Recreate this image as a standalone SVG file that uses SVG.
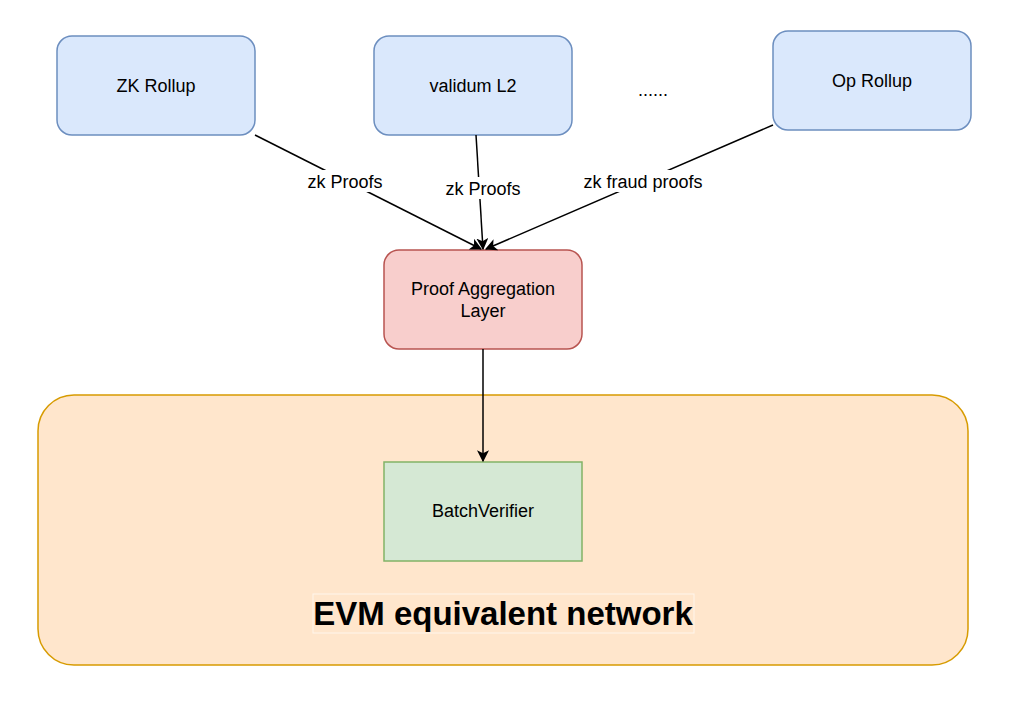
<svg xmlns="http://www.w3.org/2000/svg" width="1024" height="707" viewBox="0 0 1024 707">
<defs>
<marker id="arr" viewBox="0 0 10 10" refX="9" refY="5" markerWidth="12" markerHeight="12" markerUnits="userSpaceOnUse" orient="auto">
<path d="M0,0 L10,5 L0,10 L2.5,5 Z" fill="#000"/>
</marker>
</defs>
<style>
.blue{fill:#dae8fc;stroke:#6c8ebf;stroke-width:1.5}
.t{font-family:"Liberation Sans",Arial,sans-serif;font-size:18px;fill:#000;text-anchor:middle}
.edge{stroke:#000;stroke-width:1.5;fill:none;marker-end:url(#arr)}
.lbl{fill:#fff}
</style>
<rect width="1024" height="707" fill="#fff"/>
<g id="container">
<rect x="38" y="395" width="930" height="270" rx="36" fill="#ffe6cc" stroke="#d79b00" stroke-width="1.5"/>
<rect x="313" y="594" width="381" height="39" fill="none" stroke="#fff6ec" stroke-width="1"/>
<text x="503" y="625" style="font-family:'Liberation Sans',Arial,sans-serif;font-size:33px;font-weight:bold;text-anchor:middle">EVM equivalent network</text>
</g>
<g id="zk-rollup">
<rect class="blue" x="57" y="36" width="198" height="99" rx="15"/>
<text class="t" x="156" y="92">ZK Rollup</text>
</g>
<g id="validum">
<rect class="blue" x="374" y="36" width="198" height="99" rx="15"/>
<text class="t" x="473" y="92">validum L2</text>
</g>
<g id="dots">
<text class="t" x="653" y="96">......</text>
</g>
<g id="op-rollup">
<rect class="blue" x="773" y="31" width="198" height="99" rx="15"/>
<text class="t" x="872" y="87">Op Rollup</text>
</g>
<g id="aggregation">
<rect x="384" y="250" width="198" height="99" rx="15" fill="#f8cecc" stroke="#b85450" stroke-width="1.5"/>
<text class="t" x="483" y="295">Proof Aggregation</text>
<text class="t" x="483" y="317">Layer</text>
</g>
<g id="batchverifier">
<rect x="384" y="462" width="198" height="99" fill="#d5e8d4" stroke="#82b366" stroke-width="1.5"/>
<text class="t" x="483" y="517">BatchVerifier</text>
</g>
<g id="connectors">
<line class="edge" x1="255" y1="135" x2="481" y2="249"/>
<line class="edge" x1="476" y1="135" x2="483" y2="249"/>
<line class="edge" x1="773" y1="125" x2="486" y2="249"/>
<line class="edge" x1="483" y1="349" x2="483" y2="461"/>
<rect class="lbl" x="303" y="170" width="84" height="22"/>
<text class="t" x="345" y="188">zk Proofs</text>
<rect class="lbl" x="441" y="177" width="84" height="22"/>
<text class="t" x="483" y="195">zk Proofs</text>
<rect class="lbl" x="579" y="170" width="129" height="22"/>
<text class="t" x="643" y="188">zk fraud proofs</text>
</g>
</svg>
